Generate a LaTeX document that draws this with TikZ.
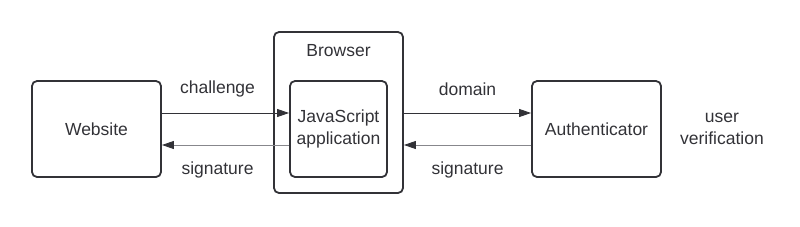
\documentclass[tikz,border=0pt]{standalone}
\usepackage{fontspec}
\setmainfont{Liberation Sans}
\usepackage{xcolor}
\usetikzlibrary{arrows.meta}
\definecolor{boxgray}{RGB}{50,50,55}
\definecolor{arrgray}{RGB}{135,135,140}

\begin{document}
\begin{tikzpicture}[x=1pt, y=-1pt,
  font=\fontsize{17.5}{21.5}\selectfont, text=boxgray,
  block/.style={draw=boxgray, line width=1.8pt, rounded corners=5pt, align=center, inner sep=0pt},
  fwd/.style={-{Triangle[length=12pt,width=8pt,color=boxgray]}, draw=boxgray, line width=0.9pt},
  bwd/.style={-{Triangle[length=12pt,width=8pt,color=boxgray]}, draw=arrgray, line width=0.9pt}]
 \useasboundingbox (0,0) rectangle (800,226);

 %boxes:
 \node[block, minimum width=129pt, minimum height=96pt] (web) at (96.5,129) {Website};
 \node[block, minimum width=129pt, minimum height=161pt] (browser) at (338.5,112.5) {};
 \node (browserlabel) at (338.5,51) {Browser};
 \node[block, minimum width=97pt, minimum height=96pt] (js) at (338.5,129) {JavaScript\\application};
 \node[block, minimum width=129pt, minimum height=96pt] (auth) at (596.5,129) {Authenticator};
 \node[align=center, font=\fontsize{17.5}{22}\selectfont] (userver) at (722,129) {user\\verification};

 %arrows:
 \draw[fwd] ([yshift=16pt]web.east) -- ([yshift=16pt]js.west) node[midway, xshift=-8pt, yshift=24pt]{challenge};
 \draw[bwd] ([yshift=-16pt]js.west) -- ([yshift=-16pt]web.east) node[midway, xshift=-8pt, yshift=-25pt]{signature};
 \draw[fwd] ([yshift=16pt]browser.east |- auth.west) -- ([yshift=16pt]auth.west) node[midway, yshift=24pt]{domain};
 \draw[bwd] ([yshift=-16pt]auth.west) -- ([yshift=-16pt]browser.east |- auth.west) node[midway, yshift=-25pt]{signature};
\end{tikzpicture}
\end{document}
